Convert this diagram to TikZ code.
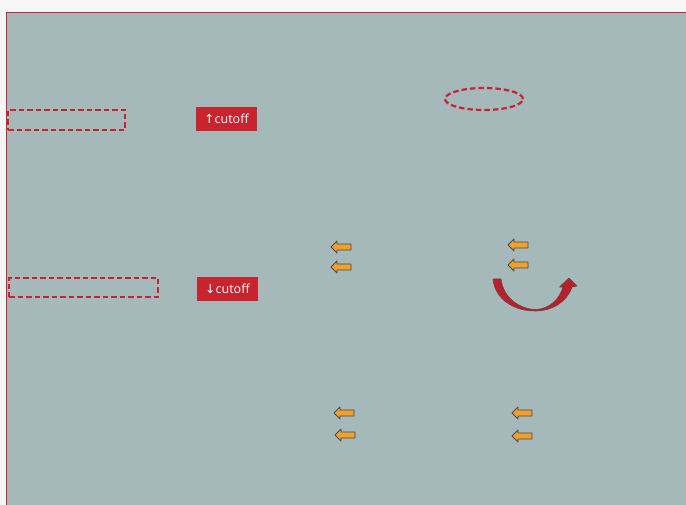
\documentclass[tikz,border=0pt]{standalone}
\usepackage{fontspec}
\setmainfont{Open Sans}
\newfontfamily\symfont{DejaVu Sans}
\usetikzlibrary{shapes.geometric}
\definecolor{pagebg}{HTML}{F6F6F6}
\definecolor{panelbg}{HTML}{A5B8BA}
\definecolor{redc}{HTML}{C8242F}
\definecolor{orangec}{HTML}{F0A02C}
\definecolor{darkc}{HTML}{4A4A4A}
\tikzset{
  dashbox/.style={draw=redc, line width=2.2pt, dash pattern=on 5.5pt off 3pt},
  tag/.style={fill=redc, text=white, inner sep=0pt, minimum width=61pt, minimum height=24pt, font=\fontsize{12.5}{14}\selectfont},
  smallarrow/.pic={
    \draw[fill=orangec, draw=darkc, line width=0.8pt, line join=round]
      (-10,0) -- (-4,-6) -- (-4,-3) -- (10,-3) -- (10,3) -- (-4,3) -- (-4,6) -- cycle;
  }
}
\begin{document}
\begin{tikzpicture}[x=1pt,y=-1pt]
\useasboundingbox (0,0) rectangle (686,505);
\fill[pagebg] (0,0) rectangle (686,505);
\fill[panelbg] (6.5,12.5) rectangle (686,505);
\draw[redc, line width=1.8pt] (6.5,505) -- (6.5,12.5) -- (686,12.5);
% dashed boxes
\node[dashbox, minimum width=117pt, minimum height=20pt, inner sep=0pt] (boxa) at (66.5,120) {};
\node[dashbox, minimum width=149pt, minimum height=19pt, inner sep=0pt] (boxb) at (83.5,287.5) {};
\node[dashbox, ellipse, minimum width=78pt, minimum height=22pt, inner sep=0pt] (ell) at (484,99) {};
% tags
\node[tag] (up) at (226.5,119) {{\symfont\fontsize{12.5}{14}\selectfont ↑}cutoff};
\node[tag] (down) at (227.5,289) {{\symfont\fontsize{12.5}{14}\selectfont ↓}cutoff};
% small arrows
\pic at (341,247) {smallarrow};
\pic at (341,267) {smallarrow};
\pic at (518,245) {smallarrow};
\pic at (518,265) {smallarrow};
\pic at (344,413) {smallarrow};
\pic at (345,435) {smallarrow};
\pic at (522,413) {smallarrow};
\pic at (522,436) {smallarrow};
% curved arrow
\draw[fill=redc!92!black, draw=darkc!70!redc, line width=0.6pt, line join=round]
  (493,279) -- (501,279)
  .. controls (503,298) and (520,309) .. (535,309.5)
  .. controls (550,309.5) and (560,298) .. (563,287)
  -- (559.5,287) -- (569,278) -- (577,286) -- (572,287)
  .. controls (567,302) and (552,311) .. (535,311)
  .. controls (515,311) and (495,300) .. (493,279) -- cycle;
\end{tikzpicture}
\end{document}
